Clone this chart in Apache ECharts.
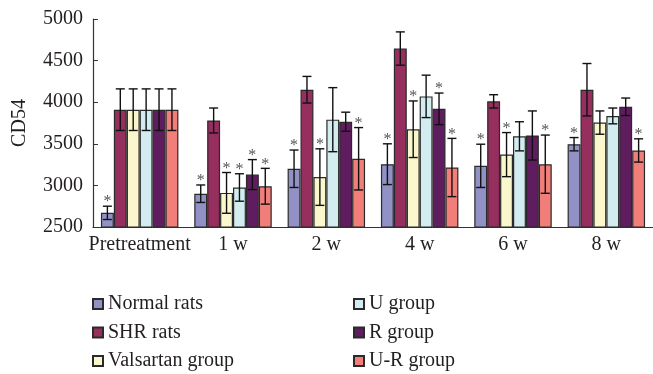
<!DOCTYPE html>
<html>
<head>
<meta charset="utf-8">
<script src="https://cdn.jsdelivr.net/npm/echarts@6/dist/echarts.min.js"></script>
<style>html,body{margin:0;padding:0;background:#fff;}#c{width:653px;height:374px;}</style>
</head>
<body>
<div id="c"></div>
<script>
var categories = ['Pretreatment', '1 w', '2 w', '4 w', '6 w', '8 w'];
var yTicks = [2500, 3000, 3500, 4000, 4500, 5000];

var groupNames = ['Normal rats', 'SHR rats', 'Valsartan group', 'U group', 'R group', 'U-R group'];

var normalVals    = [2670, 2900, 3200, 3255, 3235, 3495];
var shrVals       = [3910, 3780, 4150, 4645, 4010, 4150];
var valsartanVals = [3910, 2910, 3100, 3675, 3370, 3755];
var uVals         = [3910, 2975, 3790, 4070, 3590, 3835];
var rVals         = [3910, 3130, 3765, 3920, 3600, 3945];
var urVals        = [3910, 2990, 3320, 3215, 3255, 3420];

var normalErr    = [80, 105, 225, 245, 260, 80];
var shrErr       = [250, 150, 160, 200, 80, 315];
var valsartanErr = [250, 245, 340, 340, 265, 140];
var uErr         = [250, 165, 385, 255, 175, 95];
var rErr         = [250, 180, 115, 190, 295, 105];
var urErr        = [250, 215, 375, 350, 350, 140];

var normalSig    = [1, 1, 1, 1, 1, 1];
var shrSig       = [0, 0, 0, 0, 0, 0];
var valsartanSig = [0, 1, 1, 1, 1, 0];
var uSig         = [0, 1, 0, 0, 0, 0];
var rSig         = [0, 1, 0, 1, 0, 0];
var urSig        = [0, 1, 1, 1, 1, 1];

var colors = ['#9191c6', '#962e5e', '#fbf7cd', '#d2ecef', '#5f1d5f', '#f27e7a'];
var allVals = [normalVals, shrVals, valsartanVals, uVals, rVals, urVals];
var allErr = [normalErr, shrErr, valsartanErr, uErr, rErr, urErr];
var allSig = [normalSig, shrSig, valsartanSig, uSig, rSig, urSig];

var FONT = 'Liberation Serif';
var GAP = 0.17;
var nG = groupNames.length;

var series = [];
groupNames.forEach(function (name, gi) {
  series.push({
    name: name,
    type: 'bar',
    barGap: '0%',
    barCategoryGap: (GAP * 100) + '%',
    itemStyle: { color: colors[gi], borderColor: '#2a2a2a', borderWidth: 1.2 },
    data: allVals[gi],
    z: 2
  });
});
groupNames.forEach(function (name, gi) {
  var data = categories.map(function (c, ci) {
    var m = allVals[gi][ci], e = allErr[gi][ci];
    return [ci, m - e, m + e, allSig[gi][ci]];
  });
  series.push({
    name: 'err' + gi,
    type: 'custom',
    z: 10,
    silent: true,
    renderItem: function (params, api) {
      var ci = api.value(0), lo = api.value(1), hi = api.value(2), sig = api.value(3);
      var pLo = api.coord([ci, lo]);
      var pHi = api.coord([ci, hi]);
      var band = api.size([1, 0])[0];
      var bw = band * (1 - GAP) / nG;
      var x = pLo[0] - nG * bw / 2 + (gi + 0.5) * bw;
      var cap = 4.5;
      var st = { stroke: '#111', lineWidth: 1.4 };
      var children = [
        { type: 'line', shape: { x1: x, y1: pLo[1], x2: x, y2: pHi[1] }, style: st },
        { type: 'line', shape: { x1: x - cap, y1: pLo[1], x2: x + cap, y2: pLo[1] }, style: st },
        { type: 'line', shape: { x1: x - cap, y1: pHi[1], x2: x + cap, y2: pHi[1] }, style: st }
      ];
      if (sig) {
        children.push({
          type: 'text',
          style: { text: '*', x: x, y: pHi[1] - 4, align: 'center', verticalAlign: 'middle',
                   fontSize: 16, fontFamily: FONT, fill: '#555' }
        });
      }
      return { type: 'group', children: children };
    },
    data: data
  });
});

var legendCommon = {
  orient: 'vertical',
  icon: 'rect',
  itemWidth: 10,
  itemHeight: 10,
  itemGap: 8.5,
  itemTextGap: 13,
  padding: 0,
  top: 294,
  height: 80,
  textStyle: { fontFamily: FONT, fontSize: 20, color: '#231f20', lineHeight: 20 }
};

var chart = echarts.init(document.getElementById('c'), null, { renderer: 'canvas' });
chart.setOption({
  animation: false,
  backgroundColor: '#fff',
  grid: { left: 93, top: 19, bottom: 147, width: 567, containLabel: false },
  legend: [
    Object.assign({}, legendCommon, { left: 92, data: groupNames.slice(0, 3) }),
    Object.assign({}, legendCommon, { left: 353, data: groupNames.slice(3) })
  ],
  xAxis: {
    type: 'category',
    data: categories,
    axisLine: { lineStyle: { color: '#333', width: 1.2 } },
    axisTick: { inside: true, length: 6, lineStyle: { color: '#333' } },
    axisLabel: { interval: 0, fontFamily: FONT, fontSize: 20, color: '#231f20', margin: 8 }
  },
  yAxis: {
    type: 'value',
    min: yTicks[0],
    max: yTicks[yTicks.length - 1],
    interval: 500,
    name: 'CD54',
    nameLocation: 'middle',
    nameGap: 63,
    nameTextStyle: { fontFamily: FONT, fontSize: 20, color: '#231f20' },
    axisLine: { show: true, lineStyle: { color: '#333', width: 1.2 } },
    axisTick: { show: true, inside: true, length: 5, lineStyle: { color: '#333' } },
    splitLine: { show: false },
    axisLabel: { fontFamily: FONT, fontSize: 20, color: '#231f20', margin: 10,
                 formatter: function (v) { return String(v); } }
  },
  series: series
});
</script>
</body>
</html>
